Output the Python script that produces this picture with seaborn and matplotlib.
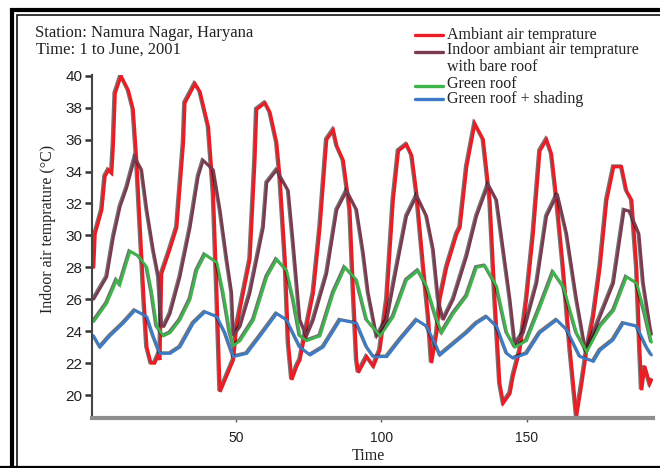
import matplotlib
matplotlib.use("Agg")
import matplotlib.pyplot as plt
import matplotlib.patheffects as pe
from matplotlib.lines import Line2D
from matplotlib.patches import Rectangle
import pandas as pd
import seaborn as sns

# ---------------- data ----------------
t_amb = [1, 1.5, 3.8, 4.9, 6.1, 7.2, 7.8, 8.4, 10.4, 12.9, 14.6, 15.8, 17.0, 18.3, 19.3,
         20.7, 22.0, 23.2, 23.8, 24.4, 27.0, 29.6, 31.9, 32.4, 35.9, 37.6, 40.5, 42.2, 43.4,
         44.5, 46.8, 49.1, 50.2, 52.5, 54.8, 56.5, 57.1, 60.0, 61.7, 64.0, 65.1, 66.9, 68.0,
         69.2, 70.9, 72.0, 74.3, 76.6, 78.9, 81.2, 83.5, 84.7, 86.9, 89.2, 90.4, 91.5, 92.1,
         95.0, 97.3, 99.5, 101.9, 104.1, 105.9, 108.7, 110.5, 112.2, 114.5, 116.2, 117.3,
         119.1, 120.2, 122.5, 126.0, 127.1, 129.4, 132.2, 135.1, 137.4, 139.1, 140.8, 142.0,
         144.3, 145.4, 147.7, 150.0, 152.3, 154.6, 156.9, 158.6, 160.4, 162.6, 165.0, 167.2,
         169.0, 170.7, 173.0, 175.3, 177.6, 180.0, 182.7, 184.4, 186.2, 187.9, 189.0, 189.6,
         190.7, 192.4, 193.0]
v_amb = [28.0, 30.1, 31.6, 33.7, 34.1, 33.9, 35.8, 38.9, 40.0, 39.1, 37.9, 34.7, 30.5, 26.0, 23.0,
         22.0, 22.0, 22.5, 22.2, 27.6, 29.0, 30.5, 35.8, 38.3, 39.5, 39.0, 36.8, 32.6, 26.4,
         20.2, 21.2, 22.2, 24.3, 26.4, 28.5, 34.7, 37.9, 38.3, 37.7, 35.8, 33.7, 28.5, 23.3,
         20.95, 21.8, 22.2, 24.3, 26.4, 30.5, 36.0, 36.6, 35.6, 34.7, 31.6, 26.4, 22.2, 21.4,
         22.4, 21.8, 22.8, 26.0, 32.2, 35.3, 35.7, 35.0, 32.6, 28.0, 24.9, 22.0,
         23.9, 26.0, 28.0, 30.1, 30.5, 34.3, 37.0, 36.0, 32.2, 26.0, 20.7, 19.5,
         20.1, 21.2, 22.8, 26.0, 30.1, 35.3, 36.0, 35.1, 32.2, 28.0, 22.8, 18.65,
         20.7, 22.8, 24.9, 28.0, 32.2, 34.3, 34.3, 32.8, 32.2, 28.0, 22.8, 20.3,
         21.8, 20.7, 20.95]

t_bare = [1, 5.5, 7.8, 10.1, 12.4, 15.2, 17.5, 19.3, 21.5, 23.3, 24.4, 25.2, 27.3, 30.7, 34.2,
          37.0, 38.7, 42.2, 44.5, 46.8, 48.5, 49.1, 51.4, 54.8, 59.4, 60.6, 64.0, 68.0, 69.7, 72.0,
          74.3, 76.6, 81.2, 84.7, 88.1, 91.5, 93.8, 95.5, 98.4, 101.9, 105.3, 108.7, 112.2, 115.6,
          117.9, 119.6, 121.3, 124.8, 129.4, 132.8, 136.8, 139.7, 142.0, 144.3, 146.0, 148.9,
          153.5, 156.9, 160.6, 163.8, 167.2, 170.4, 175.3, 179.9, 183.6, 185.5, 188.7, 190.2,
          192.5, 193.0]
v_bare = [26.0, 27.4, 29.9, 31.8, 33.0, 34.9, 34.1, 31.6, 29.1, 27.4, 24.3, 24.3, 25.1, 27.4, 30.5,
          33.7, 34.7, 34.1, 31.6, 28.5, 26.4, 23.7, 24.3, 26.4, 30.5, 33.3, 34.1, 32.8, 29.5, 24.7,
          23.7, 24.7, 27.6, 31.6, 32.8, 31.6, 28.9, 26.4, 23.7, 24.7, 28.0, 31.2, 32.5, 31.2,
          29.1, 26.0, 24.7, 26.0, 28.7, 31.2, 33.2, 32.2, 29.1, 26.0, 23.2, 23.9,
          27.0, 31.2, 32.6, 30.1, 26.0, 22.7, 24.9, 27.0, 31.6, 31.5, 30.1, 27.0,
          24.3, 23.8]

t_green = [1, 5.5, 8.9, 10.0, 11.8, 13.5, 16.4, 19.3, 21.0, 22.7, 25.0, 27.3, 30.7, 34.2, 36.5,
           39.3, 43.4, 45.6, 47.9, 49.1, 51.4, 56.0, 60.6, 64.0, 67.4, 69.7, 72.0, 74.3, 78.9,
           83.5, 87.5, 91.5, 95.0, 99.6, 104.1, 108.7, 112.7, 115.6, 119.1, 120.8, 124.8, 129.4,
           132.8, 135.7, 139.7, 143.2, 146.0, 150.0, 154.6, 159.2, 162.6, 167.2, 170.7, 175.3,
           180.0, 184.4, 187.9, 190.7, 193.0]
v_green = [24.6, 25.75, 27.2, 26.9, 28.0, 29.0, 28.7, 28.0, 26.4, 24.3, 23.7, 23.9, 24.7, 26.0, 27.8,
           28.8, 28.3, 26.4, 23.9, 23.1, 23.4, 24.7, 27.4, 28.5, 27.8, 26.0, 23.7, 23.4, 23.7,
           26.4, 28.0, 27.2, 24.7, 23.7, 24.9, 27.2, 27.8, 26.8, 24.7, 23.9, 25.1, 26.2,
           28.0, 28.1, 26.8, 23.9, 23.0, 23.4, 25.5, 27.7, 26.8, 23.9, 22.7, 24.3,
           25.3, 27.4, 27.0, 25.1, 23.3]

t_shade = [1, 3.2, 6.6, 11.2, 15.2, 19.3, 21.5, 23.8, 27.3, 30.7, 35.3, 39.3, 43.4, 46.2, 49.1,
           53.7, 58.3, 64.0, 67.4, 72.0, 75.5, 80.0, 85.8, 91.5, 95.0, 97.3, 101.9, 106.4, 112.2,
           115.6, 119.1, 120.2, 124.8, 129.4, 132.8, 136.3, 139.7, 143.2, 145.4, 150.0, 154.6,
           160.4, 163.8, 168.4, 173.0, 175.3, 179.8, 183.3, 187.9, 191.3, 193.0]
v_shade = [23.7, 23.0, 23.7, 24.5, 25.3, 24.9, 23.7, 22.6, 22.6, 23.0, 24.5, 25.2, 24.9, 23.9, 22.4,
           22.6, 23.7, 25.1, 24.7, 23.0, 22.5, 23.0, 24.7, 24.5, 23.0, 22.4, 22.4, 23.45, 24.7,
           24.3, 23.0, 22.5, 23.2, 23.9, 24.5, 24.9, 24.3, 22.6, 22.3, 22.6, 23.9,
           24.7, 24.1, 22.4, 22.1, 22.8, 23.45, 24.5, 24.3, 23.0, 22.5]

series_names = ["Ambiant air temprature", "Indoor ambiant air temprature\nwith bare roof",
                "Green roof", "Green roof + shading"]
y_ticks = [20, 22, 24, 26, 28, 30, 32, 34, 36, 38, 40]
x_ticks = [50, 100, 150]

colors = ["#ec1c24", "#7c3a50", "#3db54a", "#3c7bc8"]
widths = [2.3, 2.0, 2.0, 2.0]

# ---------------- build long-form table ----------------
frames = []
for name, t, v in zip(series_names, [t_amb, t_bare, t_green, t_shade],
                      [v_amb, v_bare, v_green, v_shade]):
    frames.append(pd.DataFrame({"Time": t, "Temp": v, "Series": name}))
df = pd.concat(frames, ignore_index=True)

sns.set_style("white")
plt.rcParams["font.family"] = ["Liberation Serif", "DejaVu Serif"]

W, H = 660, 468
fig = plt.figure(figsize=(W / 100, H / 100), dpi=100)
ax = fig.add_axes([92.3 / W, (H - 418) / H, (652.7 - 92.3) / W, (418 - 75) / H])

sns.lineplot(data=df, x="Time", y="Temp", hue="Series", hue_order=series_names,
             palette=dict(zip(series_names, colors)), estimator=None, sort=False,
             legend=False, ax=ax)

for ln, lw in zip(ax.lines, widths):
    ln.set_linewidth(lw)
    ln.set_solid_joinstyle("miter")
    ln.set_path_effects([pe.SimpleLineShadow(offset=(-0.9, 0.6), shadow_color="black", alpha=0.55),
                         pe.Normal()])

ax.set_xlim(0.5, 193.4)
ax.set_ylim(18.56, 40.05)
ax.set_yticks(y_ticks)
ax.set_xticks(x_ticks)
ax.set_yticklabels([str(v) for v in y_ticks], family="Liberation Sans", fontsize=11)
ax.set_xticklabels([str(v) for v in x_ticks], family="Liberation Sans", fontsize=10)

for s in ["top", "right"]:
    ax.spines[s].set_visible(False)
ax.spines["left"].set_color("#444444")
ax.spines["left"].set_linewidth(1.5)
ax.spines["bottom"].set_color("#8e8e8e")
ax.spines["bottom"].set_linewidth(3.0)

ax.tick_params(axis="y", direction="out", length=5, width=1.8, color="#333333", pad=2,
               labelcolor="#222222", left=True)
ax.tick_params(axis="x", direction="out", length=3, width=1.0, color="#555555", pad=6,
               labelcolor="#222222", bottom=True)

ax.set_xlabel("")
ax.set_ylabel("")
fig.text(48 / W, 1 - 229 / H, "Indoor air temprature (\u00b0C)", rotation=90, ha="center",
         va="center", fontsize=11.5, color="#222222")
fig.text(368 / W, 1 - 456 / H, "Time", ha="center", va="center", fontsize=11.5, color="#222222")

fig.text(35 / W, 1 - 33 / H, "Station: Namura Nagar, Haryana", ha="left", va="center",
         fontsize=12, color="#222222")
fig.text(36 / W, 1 - 50 / H, "Time: 1 to June, 2001", ha="left", va="center",
         fontsize=12, color="#222222")

# legend (manual placement to follow the reference layout)
leg_rows = [(35, 35, "Ambiant air temprature"),
            (52, 50, "Indoor ambiant air temprature"),
            (None, 67, "with bare roof"),
            (86, 84, "Green roof"),
            (99, 99, "Green roof + shading")]
ci = 0
for ly, ty, txt in leg_rows:
    if ly is not None:
        fig.add_artist(Line2D([415 / W, 443 / W], [1 - ly / H, 1 - ly / H], color=colors[ci],
                              lw=2.4, transform=fig.transFigure))
        ci += 1
    fig.text(447 / W, 1 - ty / H, txt, ha="left", va="center", fontsize=11.5, color="#222222")

# double frame
fig.add_artist(Rectangle((12 / W, -10 / H), 700 / W, (H - 10.3 + 10) / H, fill=False,
                         lw=3, edgecolor="black", transform=fig.transFigure))
fig.add_artist(Rectangle((16.7 / W, -10 / H), 700 / W, (H - 14.7 + 10) / H, fill=False,
                         lw=1.1, edgecolor="black", transform=fig.transFigure))
fig.add_artist(Line2D([0, 1], [1 - 466.5 / H, 1 - 466.5 / H], color="black", lw=1.6,
                      transform=fig.transFigure))

fig.savefig("out.png", dpi=100)
